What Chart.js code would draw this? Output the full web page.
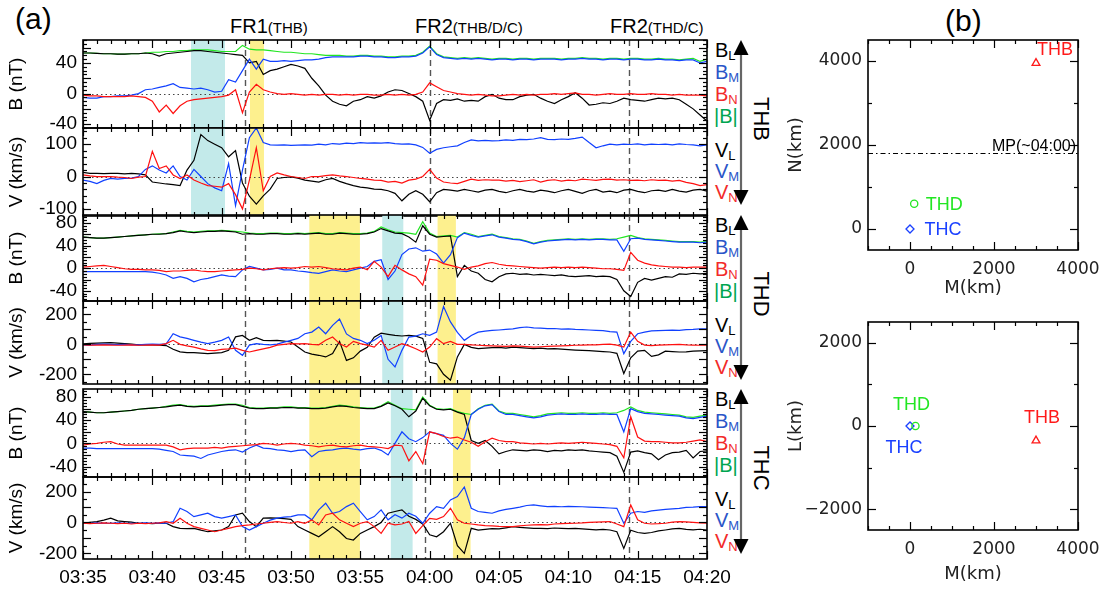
<!DOCTYPE html>
<html>
<head>
<meta charset="utf-8">
<script src="https://cdn.jsdelivr.net/npm/chart.js@4.4.0/dist/chart.umd.min.js"></script>
<style>
body { margin: 0; background: #fff; width: 1104px; height: 593px; position: relative; overflow: hidden; font-family: "Liberation Sans", Arial, sans-serif; }
canvas { position: absolute; }
.lab { position: absolute; white-space: nowrap; line-height: 1; }
.sb { font-size: 13px; position: relative; top: 3px; }
.rot { position: absolute; font-size: 22px; line-height: 1; transform: translate(-50%, -50%) rotate(90deg); white-space: nowrap; }
</style>
</head>
<body>

<div class="lab" style="left:15px;top:4px;font-size:30px">(a)</div>
<div class="lab" style="left:945px;top:6px;font-size:30px">(b)</div>
<div class="lab" style="left:230px;top:16px;font-size:20px">FR1<span style="font-size:15px">(THB)</span></div>
<div class="lab" style="left:415px;top:16px;font-size:20px">FR2<span style="font-size:15px">(THB/D/C)</span></div>
<div class="lab" style="left:610px;top:16px;font-size:20px">FR2<span style="font-size:15px">(THD/C)</span></div>

<div id="side"></div>
<svg width="1104" height="593" style="position:absolute;left:0;top:0" id="arrows"></svg>

<canvas id="p1" width="750" height="108"></canvas>
<canvas id="p2" width="750" height="102"></canvas>
<canvas id="p3" width="750" height="106"></canvas>
<canvas id="p4" width="750" height="103"></canvas>
<canvas id="p5" width="750" height="108"></canvas>
<canvas id="p6" width="750" height="126"></canvas>
<canvas id="s1" width="344" height="270"></canvas>
<canvas id="s2" width="344" height="281"></canvas>

<script>
// time in minutes after 03:35
const t = [0,0.5,1,1.5,2,2.5,3,3.5,4,4.5,5,5.5,6,6.5,7,7.5,8,8.5,9,9.5,
  10,10.5,11,11.5,12,12.5,13,13.5,14,14.5,15,15.5,16,16.5,17,17.5,18,18.5,19,19.5,
  20,20.5,21,21.5,22,22.5,23,23.5,24,24.5,25,25.5,26,26.5,27,27.5,28,28.5,29,29.5,
  30,30.5,31,31.5,32,32.5,33,33.5,34,34.5,35,35.5,36,36.5,37,37.5,38,38.5,39,39.5,
  40,40.5,41,41.5,42,42.5,43,43.5,44,44.5,45];
const timeLabels = ['03:35','03:40','03:45','03:50','03:55','04:00','04:05','04:10','04:15','04:20'];

// THB
const thbBt = [53,53,52.5,52,52,51.5,51.5,52,52,53, 54,54,55,55,56,56,57,57,57,56,
  55,55,55,63,58,57,57,56,55,54, 54,53,52,52,51,50,50,50,49,49,
  50,50,49,49,48,48,49,49,50,54, 62,52,48,47,46,47,46,47,46,45,
  46,46,45,46,46,45,46,46,46,45, 46,46,47,46,46,45,46,46,45,46,
  46,45,45,46,45,45,44,45,46,42,45];
const thbBL = [53,53,52.5,52,52,51.5,51.5,52,52,53, 52,49,52,53,54,55,56,56,55,54,
  53,52,51,50,40,42,25,30,32,35, 38,36,33,20,10,-2,-10,-14,-16,-10,
  -8,-4,-6,-3,2,5,4,0,-4,-10, -35,-13,-8,-9,-7,-10,-9,-10,-4,-1,
  -6,-8,-8,-4,-2,-1,-6,-10,-13,-8, -4,1,-6,-15,-14,-12,-13,-10,-6,-8,
  -9,-10,-8,-6,-7,-6,-8,-14,-20,-28,-36];
const thbBM = [-5,-6,-6,-4,-4,-3,-3,-2,0,5, 6,8,10,13,8,7,6,7,5,2,
  3,18,15,30,45,32,45,42,42,43, 42,43,44,44,45,47,48,48,48,48,
  49,49,48,48,47,47,48,48,49,53, 61,51,47,46,45,46,45,46,45,44,
  45,45,44,45,45,44,45,45,45,44, 45,45,46,45,45,44,45,45,44,45,
  45,44,44,45,44,44,43,44,44,40,42];
const thbBN = [-2,-3,-3,-4,-4,-4,-4,-3,-4,-5, -10,-24,-15,-26,-16,-10,-8,-7,-6,-5,
  -4,-2,5,-25,2,12,5,2,0,-1, 0,-1,-2,-1,-2,-1,-1,-2,-1,-2,
  -1,-1,-2,-2,-1,-2,-1,-2,-1,2, 14,9,4,2,0,-1,-2,-1,-2,-3,
  -3,-2,-1,-2,-1,-2,-1,-1,0,-1, 0,1,-1,-1,-2,-1,0,-1,-1,0,
  -1,-1,0,-1,-1,-2,-1,-2,-2,-2,-3];
const thbVL = [13,10,10,9,10,10,8,10,8,5, -17,-20,-23,-25,-28,20,50,130,111,100,
  89,61,80,-20,-61,-85,-60,-39,-6,-3, -1,-5,-11,-14,-17,-10,-6,-15,-22,-28,
  -33,-35,-39,-40,-44,-52,-75,-55,-44,-55, -78,-50,-40,-42,-45,-40,-44,-48,-42,-40,
  -46,-50,-44,-40,-45,-48,-42,-45,-50,-44, -40,-46,-52,-44,-40,-48,-45,-50,-42,-40,
  -46,-50,-44,-42,-46,-40,-45,-48,-42,-40,-45];
const thbVM = [-11,-15,-22,-12,-6,-8,-6,-5,0,22, 33,20,11,33,0,-11,22,0,-22,-35,
  -44,40,-90,20,120,150,105,98,97,98, 96,97,98,97,100,98,102,100,103,102,
  105,103,104,103,105,102,100,101,98,90, 72,84,89,92,95,105,113,110,112,110,
  111,113,112,115,114,116,120,115,114,116, 115,118,122,105,89,95,100,98,100,99,
  101,98,100,99,100,98,101,99,98,95,98];
const thbVN = [5,2,0,0,0,-2,-3,-6,-2,0, 78,25,33,5,-6,5,-11,-20,-28,-30,
  -33,-22,-56,-100,-11,89,-44,0,11,5, 0,-3,-6,0,0,3,5,2,0,-3,
  -6,-8,-11,-12,-17,-15,-20,-11,-8,0, 22,-5,-17,-20,-22,-15,-8,-12,-10,-11,
  -11,-14,-12,-16,-13,-10,-17,-12,-10,-14, -11,-13,-8,-10,-12,-9,-8,-11,-10,-12,
  -11,-13,-10,-12,-11,-14,-12,-18,-22,-28,-25];

// THD
const thdBt = [55,54,53,53,54,55,56,57,58.5,59, 60,60.5,61,64,67,65,64,65,66,66,
  67,66,65,64,62,61,61,62,62,61, 61,62,61,62,63,61,61,63,62,61,
  61,62,65,73,68,64,63,62,60,82, 62,56,57,58,55,63,60,56,58,60,
  56,54,52,51,48,44,47,49,50,51, 52,51,52,51,52,52,51,52,55,58,
  54,52,51,50,49,48,47,47,47,46,47];
const thdBL = [55,54,53,53,54,55,56,57,58,59, 60,60,61,63,66,64,63,64,65,65,
  66,65,64,60,61,60,60,61,61,60, 60,61,60,61,62,60,60,62,61,60,
  60,61,64,70,66,62,61,55,46,75, 60,55,56,57,-15,5,-5,-9,-20,-24,
  -15,-10,-9,-11,-10,-12,-11,-12,-13,-12, -14,-15,-14,-13,-15,-14,-15,-20,-40,-50,
  -25,-18,-21,-18,-15,-16,-10,-11,-9,-10,-9];
const thdBM = [-6,-6,-6,-6,-6,-6,-6,-6,-6,-6, -7,-9,-12,-18,-15,-18,-24,-20,-18,-15,
  -12,-14,-15,-3,3,0,-3,-2,0,-3, -3,-5,-6,-8,-9,-6,-3,-5,-6,-3,
  0,3,12,15,-20,-5,24,34,36,30, 32,25,9,24,54,62,58,55,57,59,
  55,53,51,50,47,43,46,48,49,50, 51,50,51,50,51,51,50,50,30,52,
  53,51,50,49,48,47,46,46,46,45,46];
const thdBN = [2,3,4,5,3,1,-1,-2,-2,-3, -3,-4,-6,-5,-5,-4,-3,-5,-6,-6,
  -5,-4,-3,-2,0,-1,-3,-1,0,1, 0,1,3,2,3,1,-1,-2,-3,0,
  2,-3,12,2,-15,5,-3,-10,-15,-30, 16,14,8,5,2,-2,2,4,8,10,
  7,5,4,3,2,1,0,1,2,1, 2,1,2,1,0,-1,-1,-2,-4,28,
  14,9,6,4,3,2,2,1,2,2,2];
const thdVL = [4,6,8,10,11,8,5,2,-3,-2, -4,-5,-8,-33,-50,-55,-55,-58,-62,-58,
  -55,-40,50,60,27,45,27,25,27,22, 16,-18,-51,-65,-73,-84,-62,20,-107,-90,
  -45,-20,48,75,67,60,56,60,55,40, -120,-130,-200,-240,-84,0,-20,-29,-25,-22,
  -20,-25,-18,-22,-25,-28,-25,-30,-28,-32, -35,-38,-40,-42,-45,-48,-51,-60,-195,-90,
  -45,-40,-80,-70,-45,-48,-51,-50,-45,-44,-42];
const thdVM = [-3,-5,0,2,0,-2,0,-3,-3,0, 2,0,3,71,50,40,27,15,5,15,
  27,49,-40,-73,-5,5,0,-3,2,15, 27,40,71,82,116,71,127,170,70,40,
  27,5,27,60,-100,-151,-40,49,55,71, 60,82,253,150,80,27,60,82,88,93,
  96,100,104,112,116,110,108,105,106,102, 104,100,98,96,94,92,85,82,-62,20,
  71,82,90,92,94,95,93,98,100,104,104];
const thdVN = [-3,-5,-5,-3,-5,-6,-5,-4,-6,-5, -4,-5,5,27,0,-10,-18,-30,-40,-42,
  -33,-30,-25,-40,-51,-40,-30,-20,-5,0, 5,3,5,0,-3,27,49,5,-18,20,
  5,-5,-18,27,-40,-18,5,-10,-29,-51, -18,38,5,20,0,0,-3,-6,-8,-10,
  -12,-14,-10,-12,-15,-18,-16,-14,-12,-10, -8,-6,-5,-4,-3,0,2,-5,-18,82,
  20,-5,-8,-5,-3,-2,0,-4,-5,-6,-5];

// THC
const thcBt = [55,54,53,53,54,55,56,57,59,60, 61,62,64,66,67,65,64,65,65,66,
  67,68,68,66,62,61,61,62,62,63, 63,62,62,61,61,62,64,66,65,63,
  62,61,61,65,72,66,60,59,58,80, 66,60,59,60,55,52,50,60,66,68,
  56,52,52,50,48,46,48,51,52,53, 52,52,53,52,52,53,52,53,57,63,
  57,54,53,52,51,50,49,46,45,47,49];
const thcBL = [55,54,53,53,54,55,56,57,59,60, 61,62,63,65,66,64,63,64,64,65,
  66,67,67,64,61,60,60,61,61,62, 62,61,61,60,60,61,63,65,64,62,
  61,60,60,64,70,65,59,46,56,78, 65,59,58,59,54,50,5,0,5,-5,
  -18,-14,-11,-12,-13,-11,-12,-14,-12,-13, -11,-12,-11,-13,-14,-15,-16,-22,-50,-15,
  -13,-16,-18,-28,-20,-16,-15,-12,-25,-14,-13];
const thcBM = [-8,-8,-9,-9,-9,-9,-9,-9,-9,-9, -9,-10,-12,-14,-20,-21,-22,-26,-20,-17,
  -14,-12,-11,-15,-8,-3,-8,-9,-11,-12, -14,-12,-11,-23,-14,-12,-11,-9,-8,-10,
  -11,-9,-8,-12,-20,0,20,8,3,10, 20,17,14,0,-10,10,50,59,65,67,
  55,50,50,48,46,44,46,49,50,51, 50,50,51,50,50,51,50,50,20,60,
  55,52,51,50,49,48,47,44,43,45,47];
const thcBN = [-3,-1,0,2,3,-1,-3,-3,-3,-3, -3,-3,-3,-6,-11,-9,-8,-8,-8,-7,
  -8,-6,-5,-4,-3,-2,0,-1,-3,-1, 0,-1,-3,-4,-6,-4,-3,-5,-6,-4,
  -3,-5,-6,-7,-9,-3,-4,-30,-14,-35, 20,17,12,9,11,6,2,-5,3,9,
  5,3,3,1,0,-1,0,-1,0,1, 0,1,2,1,0,-1,-2,-5,-25,46,
  11,4,3,3,2,1,1,2,4,6,3];
const thcVL = [-5,0,6,15,28,10,6,2,-5,-5, -8,-5,-5,-27,-38,-40,-38,-50,-60,-55,
  -49,-27,49,60,6,-27,28,30,28,25, 20,-27,-49,-71,-93,-60,-27,-60,-104,-114,
  -71,-49,-27,0,60,71,82,40,20,-10, -80,-93,-60,-5,-150,-200,-38,-49,-45,-40,
  -42,-35,-27,-32,-35,-38,-38,-40,-36,-38, -40,-38,-42,-45,-48,-45,-49,-60,-168,-50,
  -65,-71,-65,-55,-49,-42,-38,-45,-48,-44,-49];
const thcVM = [-5,-5,-3,-5,-5,-3,-5,-5,-5,-3, -5,-3,-5,5,92,71,38,49,60,38,
  28,38,49,-27,-49,-27,-5,15,28,35, 38,49,49,17,82,125,60,71,103,125,
  71,17,38,82,17,50,28,60,40,-5, 60,103,92,146,168,230,92,71,65,60,
  75,85,92,100,110,114,108,103,105,102, 104,103,102,100,98,96,94,92,-5,60,
  71,65,75,80,85,88,92,98,100,103,103];
const thcVN = [-5,-8,-5,-3,-5,-8,-5,-10,-5,-8, -5,-3,5,-5,27,-5,-27,-38,-49,-60,
  -49,-38,-27,-20,-16,-10,-5,0,6,0, -5,6,-5,17,-16,49,60,17,-5,-27,
  -5,6,-27,-71,-5,-16,-10,6,-71,-20, 27,20,38,92,17,-5,-10,-16,-20,-22,
  -25,-27,-27,-22,-18,-16,-14,-16,-10,-8, -6,-5,-3,0,2,4,6,-10,-27,114,
  17,-5,-10,-8,-5,2,6,4,0,-3,-5];

// shaded intervals and flux-rope times (minutes after 03:35)
const thbCyan = [[7.79, 10.24]];
const thbYellow = [[12.04, 13.05]];
const thdCyan = [[21.58, 23.1]];
const thdYellow = [[16.32, 19.97], [25.57, 26.89]];
const thcCyan = [[22.2, 23.77]];
const thcYellow = [[16.32, 19.97], [26.68, 27.95]];
const thbFR = [11.7, 25.0, 39.35];
const thdFR = [11.7, 24.66, 39.35];
const thcFR = [11.7, 24.66, 39.35];

// spacecraft positions (km)
const scNames = ['THB', 'THD', 'THC'];
const scM = [3000, 100, 0];
const scN = [3950, 600, 0];
const scM2 = [3000, 130, 0];
const scL = [-350, 0, 0];
const mpN = 1800;
const mTicks = [0, 2000, 4000];
const nTicks = [0, 2000, 4000];
const lTicks = [-2000, 0, 2000];

const FONT = '"Liberation Sans", Arial, sans-serif';
const COL = { L: '#000000', M: '#1040ff', N: '#ff1010', T: '#22e622' };

const idlFrame = {
  id: 'idlFrame',
  beforeDatasetsDraw(chart, args, o) {
    const { ctx, chartArea: a, scales: { x, y } } = chart;
    ctx.save();
    (o.cyan || []).forEach(s => {
      const x0 = x.getPixelForValue(s[0]), x1 = x.getPixelForValue(s[1]);
      ctx.fillStyle = '#c3eaea';
      ctx.fillRect(x0, a.top, x1 - x0, a.bottom - a.top);
    });
    (o.yellow || []).forEach(s => {
      const x0 = x.getPixelForValue(s[0]), x1 = x.getPixelForValue(s[1]);
      ctx.fillStyle = '#fdf08e';
      ctx.fillRect(x0, a.top, x1 - x0, a.bottom - a.top);
    });
    if (o.zero) {
      const yz = Math.round(y.getPixelForValue(0)) + 0.5;
      ctx.strokeStyle = '#444';
      ctx.lineWidth = 1;
      ctx.setLineDash([1.5, 3]);
      ctx.beginPath(); ctx.moveTo(a.left, yz); ctx.lineTo(a.right, yz); ctx.stroke();
    }
    (o.dashes || []).forEach(v => {
      const xp = Math.round(x.getPixelForValue(v)) + 0.5;
      ctx.strokeStyle = '#555';
      ctx.lineWidth = 1.4;
      ctx.setLineDash([6, 4]);
      ctx.beginPath(); ctx.moveTo(xp, a.top); ctx.lineTo(xp, a.bottom); ctx.stroke();
    });
    if (o.mp !== undefined) {
      const yp = Math.round(y.getPixelForValue(o.mp)) + 0.5;
      ctx.strokeStyle = '#000';
      ctx.lineWidth = 1;
      ctx.setLineDash([5, 3, 1.5, 3]);
      ctx.beginPath(); ctx.moveTo(a.left, yp); ctx.lineTo(a.right, yp); ctx.stroke();
      ctx.setLineDash([]);
      ctx.fillStyle = '#000';
      ctx.font = '16px ' + FONT;
      ctx.textAlign = 'right';
      ctx.textBaseline = 'alphabetic';
      ctx.fillText('MP(~04:00)', a.right - 2, yp - 3);
    }
    ctx.restore();
  },
  afterDraw(chart, args, o) {
    const { ctx, chartArea: a, scales: { x, y } } = chart;
    ctx.save();
    ctx.strokeStyle = '#000';
    ctx.lineWidth = 1.2;
    ctx.setLineDash([]);
    const seg = (x0, y0, x1, y1) => { ctx.beginPath(); ctx.moveTo(x0, y0); ctx.lineTo(x1, y1); ctx.stroke(); };
    const ticks = (scale, horiz, major, minor, lmaj, lmin) => {
      const k0 = Math.ceil(scale.min / minor - 1e-9), k1 = Math.floor(scale.max / minor + 1e-9);
      for (let k = k0; k <= k1; k++) {
        const v = k * minor;
        const r = v / major;
        const L = Math.abs(r - Math.round(r)) < 1e-6 ? lmaj : lmin;
        const p = Math.round(scale.getPixelForValue(v)) + 0.5;
        if (horiz) { seg(p, a.top, p, a.top + L); seg(p, a.bottom, p, a.bottom - L); }
        else { seg(a.left, p, a.left + L, p); seg(a.right, p, a.right - L, p); }
      }
    };
    ticks(x, true, o.xMajor, o.xMinor, 8, 4);
    ticks(y, false, o.yMajor, o.yMinor, 8, 4);
    (o.labels || []).forEach(lb => {
      const meta = chart.getDatasetMeta(lb.ds);
      const pt = meta.data[0];
      ctx.fillStyle = lb.color;
      ctx.font = '18px ' + FONT;
      ctx.textAlign = 'center';
      ctx.textBaseline = 'middle';
      ctx.fillText(scNames[lb.ds], pt.x + lb.dx, pt.y + lb.dy);
    });
    ctx.lineWidth = 1.6;
    ctx.strokeRect(a.left, a.top, a.right - a.left, a.bottom - a.top);
    ctx.restore();
  }
};

function xy(vals) { return vals.map((v, i) => ({ x: t[i], y: v })); }

function series(L, M, N, T) {
  const ds = [
    { data: xy(N), borderColor: COL.N, order: 1 },
    { data: xy(M), borderColor: COL.M, order: 2 },
    { data: xy(L), borderColor: COL.L, order: 3 }
  ];
  if (T) ds.push({ data: xy(T), borderColor: COL.T, order: 4 });
  ds.forEach(d => { d.borderWidth = 1.2; d.pointRadius = 0; d.fill = false; d.tension = 0; });
  return ds;
}

function noPad(s) { s.paddingLeft = 0; s.paddingRight = 0; s.paddingTop = 0; s.paddingBottom = 0; }

function panel(id, top, padTop, bottomH, min, max, step, yMinor, title, datasets, opts, isBottom) {
  const cv = document.getElementById(id);
  cv.style.left = '0px';
  cv.style.top = (top - padTop) + 'px';
  new Chart(cv, {
    type: 'line',
    data: { datasets: datasets },
    plugins: [idlFrame],
    options: {
      responsive: false, animation: false, devicePixelRatio: 1,
      layout: { padding: { left: 0, right: 43, top: padTop, bottom: 0 } },
      plugins: {
        legend: { display: false }, tooltip: { enabled: false },
        idlFrame: Object.assign({ zero: true, xMajor: 5, xMinor: 1, yMajor: step / 2, yMinor: yMinor }, opts)
      },
      scales: {
        x: {
          type: 'linear', min: 0, max: 45,
          grid: { display: false, drawTicks: false }, border: { display: false },
          ticks: {
            display: isBottom, stepSize: 5, includeBounds: false, padding: 7,
            font: { family: FONT, size: 19 }, color: '#000', maxRotation: 0, autoSkip: false,
            callback: v => timeLabels[Math.round(v / 5)]
          },
          afterFit: s => { s.height = bottomH; noPad(s); }
        },
        y: {
          min: min, max: max,
          grid: { display: false, drawTicks: false }, border: { display: false },
          ticks: { stepSize: step, includeBounds: false, padding: 6, font: { family: FONT, size: 19 }, color: '#000' },
          title: { display: true, text: title, font: { family: FONT, size: 19 }, color: '#000', padding: { top: 5, bottom: 0 } },
          afterFit: s => { s.width = 83; noPad(s); }
        }
      }
    }
  });
}

panel('p1', 40, 10, 10, -45, 70, 40, 5, 'B (nT)', series(thbBL, thbBM, thbBN, thbBt),
  { cyan: thbCyan, yellow: thbYellow, dashes: thbFR }, false);
panel('p2', 128, 10, 4, -122, 150, 100, 20, 'V (km/s)', series(thbVL, thbVM, thbVN),
  { cyan: thbCyan, yellow: thbYellow, dashes: thbFR }, false);
panel('p3', 215, 10, 10, -58, 94, 40, 5, 'B (nT)', series(thdBL, thdBM, thdBN, thdBt),
  { cyan: thdCyan, yellow: thdYellow, dashes: thdFR }, false);
panel('p4', 301, 10, 10, -265, 290, 200, 50, 'V (km/s)', series(thdVL, thdVM, thdVN),
  { cyan: thdCyan, yellow: thdYellow, dashes: thdFR }, false);
panel('p5', 389, 10, 10, -58, 94, 40, 5, 'B (nT)', series(thcBL, thcBM, thcBN, thcBt),
  { cyan: thcCyan, yellow: thcYellow, dashes: thcFR }, false);
panel('p6', 477, 10, 34, -237, 295, 200, 50, 'V (km/s)', series(thcVL, thcVM, thcVN),
  { cyan: thcCyan, yellow: thcYellow, dashes: thcFR }, true);

// side labels
const groups = [['THB', 0], ['THD', 175], ['THC', 349]];
let html = '';
let svg = '';
groups.forEach(g => {
  const o = g[1];
  const row = (top, main, sub, color) =>
    `<div class="lab" style="left:715px;top:${top + o}px;font-size:20px;color:${color}">${main}<span class="sb">${sub}</span></div>`;
  html += row(40, 'B', 'L', '#000') + row(62, 'B', 'M', '#2a55c8') + row(84, 'B', 'N', '#f22a2a') +
    `<div class="lab" style="left:714px;top:${106 + o}px;font-size:20px;color:#00a550">|B|</div>` +
    row(140, 'V', 'L', '#000') + row(161, 'V', 'M', '#2a55c8') + row(182, 'V', 'N', '#f22a2a') +
    `<div class="rot" style="left:761px;top:${119 + o}px">${g[0]}</div>`;
  svg += `<line x1="741" y1="${54 + o}" x2="741" y2="${191 + o}" stroke="#666" stroke-width="2.2"/>` +
    `<polygon points="741,${40 + o} 733.5,${55 + o} 748.5,${55 + o}" fill="#000"/>` +
    `<polygon points="741,${205 + o} 733.5,${190 + o} 748.5,${190 + o}" fill="#000"/>`;
});
document.getElementById('side').innerHTML = html;
document.getElementById('arrows').innerHTML = svg;

// right scatter panels
const SFONT = '"DejaVu Sans", sans-serif';
function scatter(id, top, padTop, bottomH, yMin, yMax, mVals, yVals, yTicks, yTitle, titlePadBottom, labels, mp) {
  const cv = document.getElementById(id);
  cv.style.left = '760px';
  cv.style.top = top + 'px';
  const styles = [['triangle', '#ff1a1a', 4.5], ['circle', '#22e622', 3.6], ['rectRot', '#1a40ff', 4]];
  const ds = scNames.map((n, i) => ({
    data: [{ x: mVals[i], y: yVals[i] }],
    pointStyle: styles[i][0], borderColor: styles[i][1], backgroundColor: 'rgba(0,0,0,0)',
    pointRadius: styles[i][2], pointBorderWidth: 1.3, showLine: false
  }));
  const tickFmt = v => String(v).replace('-', '\u2212');
  new Chart(cv, {
    type: 'scatter',
    data: { datasets: ds },
    plugins: [idlFrame],
    options: {
      responsive: false, animation: false, devicePixelRatio: 1,
      layout: { padding: { left: 0, right: 26, top: padTop, bottom: 0 } },
      plugins: {
        legend: { display: false }, tooltip: { enabled: false },
        idlFrame: { zero: false, xMajor: 2000, xMinor: 500, yMajor: 2000, yMinor: 1000, labels: labels, mp: mp }
      },
      scales: {
        x: {
          type: 'linear', min: -1000, max: 4000,
          grid: { display: false, drawTicks: false }, border: { display: false },
          ticks: { padding: 9, font: { family: SFONT, size: 17 }, color: '#222', maxRotation: 0, autoSkip: false, callback: tickFmt },
          afterBuildTicks: s => { s.ticks = mTicks.map(v => ({ value: v })); },
          title: { display: true, text: 'M(km)', font: { family: SFONT, size: 18 }, color: '#222', padding: { top: 0, bottom: titlePadBottom } },
          afterFit: s => { s.height = bottomH; noPad(s); }
        },
        y: {
          type: 'linear', min: yMin, max: yMax,
          grid: { display: false, drawTicks: false }, border: { display: false },
          ticks: { padding: 6, font: { family: SFONT, size: 17 }, color: '#222', autoSkip: false, callback: tickFmt },
          afterBuildTicks: s => { s.ticks = yTicks.map(v => ({ value: v })); },
          title: { display: true, text: yTitle, font: { family: SFONT, size: 18 }, color: '#222', padding: { top: 26, bottom: 0 } },
          afterFit: s => { s.width = 108; noPad(s); }
        }
      }
    }
  });
}

scatter('s1', 30, 10, 50, -500, 4500, scM, scN, nTicks, 'N(km)', 1,
  [{ ds: 0, dx: 19, dy: -13, color: '#ff1a1a' }, { ds: 1, dx: 30, dy: 1, color: '#22e622' }, { ds: 2, dx: 33, dy: 1, color: '#1a40ff' }],
  mpN);
scatter('s2', 312, 10, 63, -2500, 2500, scM2, scL, lTicks, 'L(km)', 8,
  [{ ds: 0, dx: 6, dy: -23, color: '#ff1a1a' }, { ds: 1, dx: -4, dy: -21, color: '#22e622' }, { ds: 2, dx: -6, dy: 22, color: '#1a40ff' }],
  undefined);
</script>
</body>
</html>
